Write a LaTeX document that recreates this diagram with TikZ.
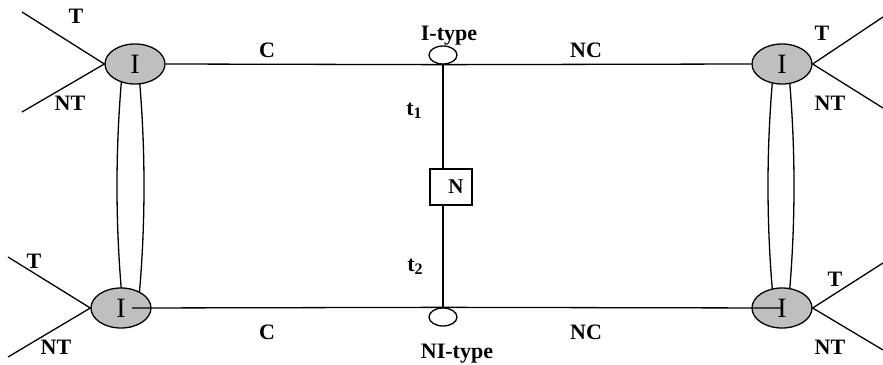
\documentclass[tikz,border=0pt]{standalone}
\usepackage{fontspec}
\setmainfont{Liberation Serif}
\usetikzlibrary{shapes.geometric,calc,backgrounds}
\tikzset{
  IF/.style={ellipse,draw,fill=black!25,inner sep=0pt,
             minimum width=60pt,minimum height=40pt,
             font=\fontsize{28}{29}\selectfont},
  TP/.style={ellipse,draw,fill=white,inner sep=0pt,
             minimum width=28pt,minimum height=18pt},
  NB/.style={rectangle,draw,fill=white,inner sep=0pt,
             minimum width=42pt,minimum height=36pt,
             font=\fontsize{21}{22}\selectfont\bfseries},
  LB/.style={inner sep=0pt,font=\fontsize{22}{24}\selectfont\bfseries},
  LP/.style={draw,line width=1.3pt}
}

\begin{document}
\begin{tikzpicture}[x=1pt,y=-1pt,line width=1.3pt]
  \useasboundingbox (0,0) rectangle (883,364);
  % interfaces
  \node[IF] (tl) at (135,64) {I};
  \node[IF] (tr) at (782,64) {I};
  \node[IF] (bl) at (121,308) {I};
  \node[IF] (br) at (782,308) {I};
  % type points and N box
  \node[TP] (itype) at (443,55) {};
  \node[TP] (nitype) at (443,317) {};
  \node[NB] (nbox) at (451,187) {\hspace*{10pt}N};

  % loops between interfaces
  \begin{scope}[on background layer]
    \path[LP] ($(tl.center)+(-12,0)$) .. controls +(-8,81) and +(-8,-81) .. ($(bl.center)+(2,0)$);
    \path[LP] ($(tl.center)+(3,0)$) .. controls +(8,81) and +(8,-81) .. ($(bl.center)+(17,0)$);
    \path[LP] ($(tr.center)+(-8,0)$) .. controls +(-8,81) and +(-8,-81) .. ($(br.center)+(-8,0)$);
    \path[LP] ($(tr.center)+(6,0)$) .. controls +(8,81) and +(8,-81) .. ($(br.center)+(6,0)$);
  \end{scope}

  % links
  \draw (tl.east) -- (itype.south) -- (tr.west);
  \draw ($(bl.center)+(11,0)$) -- (nitype.north) -- (br.center);
  \draw (itype.south) -- (itype.south |- nbox.north);
  \draw (itype.south |- nbox.south) -- (nitype.north);

  % T / NT branches
  \coordinate (tlT) at (22,12);   \coordinate (tlN) at (22,112);
  \coordinate (trT) at (883,17);  \coordinate (trN) at (883,108);
  \coordinate (blT) at (8,257);   \coordinate (blN) at (8,357);
  \coordinate (brT) at (883,263); \coordinate (brN) at (883,350);
  \draw (tlT) -- (tl.west) -- (tlN);
  \draw (trT) -- (tr.east) -- (trN);
  \draw (blT) -- (bl.west) -- (blN);
  \draw (brT) -- (br.east) -- (brN);

  \node[LB] (tlt) at (76,16) {T};
  \node[LB] (tlnt) at (70,103) {NT};
  \node[LB] (trt) at (822,33) {T};
  \node[LB] (trnt) at (830,103) {NT};
  \node[LB] (blt) at (34,261) {T};
  \node[LB] (blnt) at (56,347) {NT};
  \node[LB] (brt) at (835,279) {T};
  \node[LB] (brnt) at (830,347) {NT};

  \node[LB] (c1) at (267,50) {C};
  \node[LB] (nc1) at (586,50) {NC};
  \node[LB] (c2) at (267,332) {C};
  \node[LB] (nc2) at (586,332) {NC};

  \node[LB,anchor=base] (itl) at (449,40) {I-type};
  \node[LB,anchor=base] (nitl) at (457,358) {NI-type};
  \node[LB] (t1) at (414,111) {t\raisebox{-0.3ex}{\fontsize{16}{16}\selectfont 1}};
  \node[LB] (t2) at (415,267) {t\raisebox{-0.3ex}{\fontsize{16}{16}\selectfont 2}};
\end{tikzpicture}
\end{document}
